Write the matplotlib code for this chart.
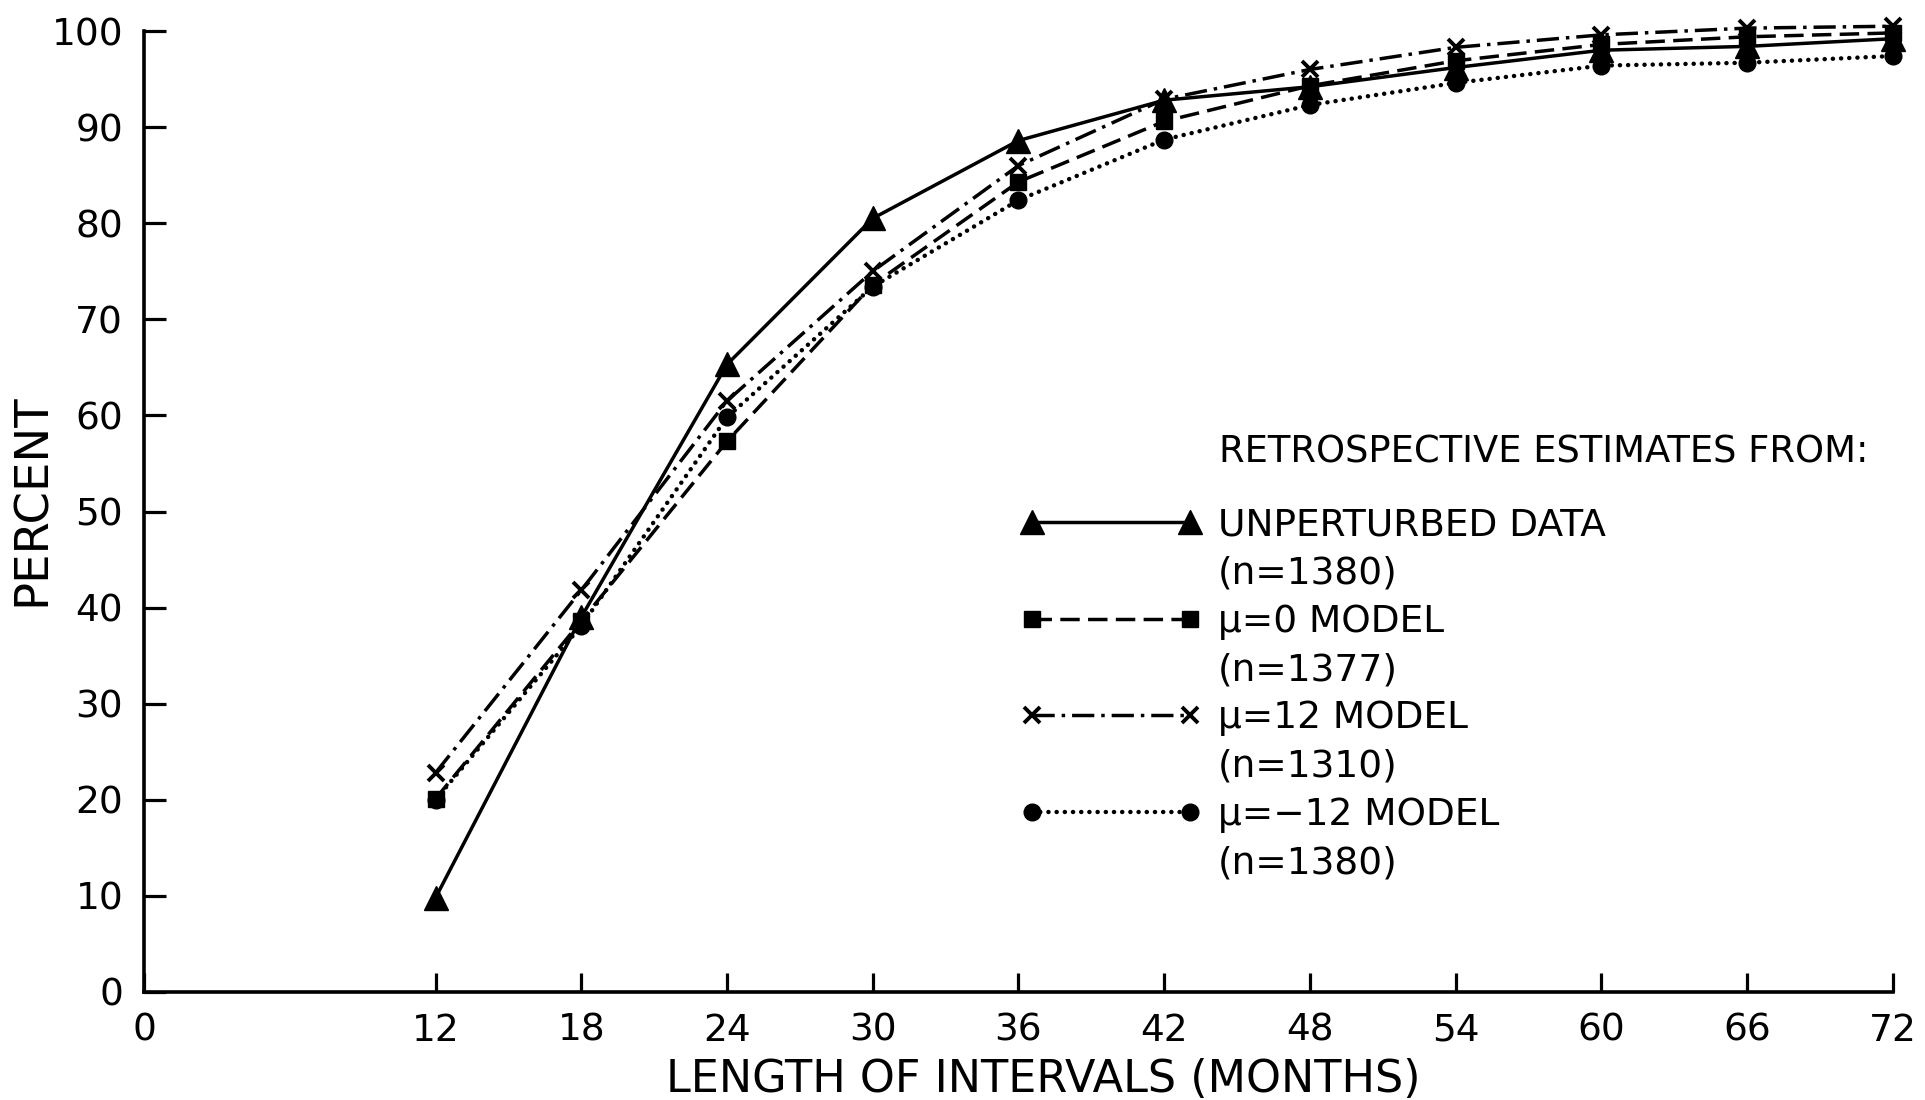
import matplotlib
matplotlib.use("Agg")
import matplotlib.pyplot as plt
from matplotlib.lines import Line2D

# ---- data ----
months = [12, 18, 24, 30, 36, 42, 48, 54, 60, 66, 72]
unperturbed = [9.8, 39.0, 65.3, 80.5, 88.6, 92.8, 94.2, 96.2, 98.0, 98.4, 99.2]
mu_0 = [20.1, 38.6, 57.3, 73.6, 84.3, 90.6, 94.3, 96.9, 98.6, 99.4, 99.8]
mu_12 = [22.8, 41.8, 61.5, 75.0, 86.0, 92.9, 96.0, 98.3, 99.6, 100.3, 100.5]
mu_m12 = [20.0, 38.1, 59.8, 73.4, 82.4, 88.7, 92.3, 94.6, 96.4, 96.7, 97.4]

x_ticks = [0, 12, 18, 24, 30, 36, 42, 48, 54, 60, 66, 72]
y_ticks = [0, 10, 20, 30, 40, 50, 60, 70, 80, 90, 100]

labels_main = ["UNPERTURBED DATA", "μ=0 MODEL", "μ=12 MODEL", "μ=−12 MODEL"]
labels_n = ["(n=1380)", "(n=1377)", "(n=1310)", "(n=1380)"]
legend_title = "RETROSPECTIVE ESTIMATES FROM:"

plt.rcParams["lines.scale_dashes"] = False
FAM = ["DejaVu Sans"]

W, H = 1925, 1100
fig = plt.figure(figsize=(W / 100, H / 100), dpi=100)
ax = fig.add_axes([144 / W, 1 - 992 / H, 1749 / W, 961 / H])

lw = 2.5
l1, = ax.plot(months, unperturbed, color="black", lw=lw, linestyle="-",
              marker="^", markersize=17, clip_on=False, zorder=5)
l2, = ax.plot(months, mu_0, color="black", lw=lw, linestyle=(0, (14, 6)),
              marker="s", markersize=11, clip_on=False, zorder=4)
l3, = ax.plot(months, mu_12, color="black", lw=lw, linestyle=(0, (16, 5, 2.5, 5)),
              marker="x", markersize=12, markeredgewidth=2.8, clip_on=False, zorder=4)
l4, = ax.plot(months, mu_m12, color="black", lw=3.2, linestyle=(0, (0.1, 5.8)),
              dash_capstyle="round", marker="o", markersize=12, clip_on=False, zorder=3)

ax.set_xlim(0, 72)
ax.set_ylim(0, 100)
for s in ("top", "right"):
    ax.spines[s].set_visible(False)
for s in ("left", "bottom"):
    ax.spines[s].set_linewidth(2.6)

ax.set_xticks(x_ticks)
ax.set_yticks(y_ticks)
ax.set_xticklabels([str(v) for v in x_ticks], fontsize=27, family=FAM)
ax.set_yticklabels([str(v) for v in y_ticks], fontsize=27, family=FAM)
ax.tick_params(axis="both", direction="in", width=2.3, color="black")
ax.tick_params(axis="y", length=16, pad=15)
ax.tick_params(axis="x", length=14, pad=15)

ax.set_xlabel("LENGTH OF INTERVALS (MONTHS)", fontsize=32, family=FAM, va="baseline")
ax.xaxis.set_label_coords(0.514, -0.104)
ax.set_ylabel("PERCENT", fontsize=33.5, family=FAM, va="center")
ax.yaxis.set_label_coords(-0.064, 0.512)

blank = Line2D([], [], color="none")
handles = []
labels = []
for h, m, n in zip([l1, l2, l3, l4], labels_main, labels_n):
    handles += [h, blank]
    labels += [m, n]

leg = fig.legend(handles, labels, loc="upper left",
                 bbox_to_anchor=(1021 / W, 1 - 507 / H), bbox_transform=fig.transFigure,
                 frameon=False, numpoints=2, handlelength=4.81, handletextpad=0.44,
                 labelspacing=0.33, borderpad=0, borderaxespad=0,
                 prop={"size": 27, "family": FAM})

fig.text(1219 / W, 1 - 452 / H, legend_title, fontsize=26.6, family=FAM,
         ha="left", va="center")

fig.savefig("out.png", dpi=100)
